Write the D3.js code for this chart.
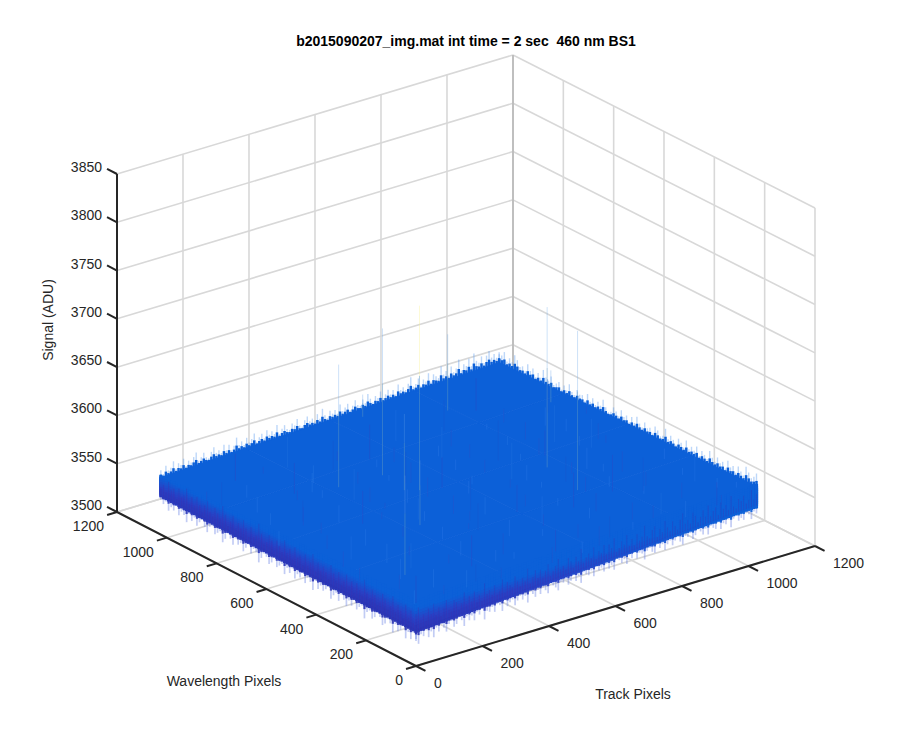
<!DOCTYPE html>
<html><head><meta charset="utf-8">
<script src="https://cdnjs.cloudflare.com/ajax/libs/d3/7.8.5/d3.min.js"></script>
<style>html,body{margin:0;background:#fff}svg{display:block}text{font-family:"Liberation Sans",Arial,sans-serif;fill:#262626}</style>
</head><body><svg id="c" width="900" height="750"></svg>
<script>
// ---- data ----
const trackTicks = [0,200,400,600,800,1000,1200];
const wavelengthTicks = [0,200,400,600,800,1000,1200];
const signalTicks = [3500,3550,3600,3650,3700,3750,3800,3850];
const titleText = "b2015090207_img.mat int time = 2 sec  460 nm BS1";
const surfaceNodes = [0,256,512,768,1024];
// mean signal of the upper surface: rows by wavelength, columns by track
const surfaceSignal = [
 [3566,3570,3573,3577,3580],
 [3564,3568,3571,3575,3578],
 [3562,3566,3570,3573,3577],
 [3561,3564,3568,3571,3575],
 [3559,3563,3566,3570,3573]];
// mean signal of the lower envelope along the two front edges
const lowerEnvelopeNodes = [3537,3543,3549,3555,3560];   // along track at wavelength 0
const lowerEnvelopeLeftNodes = [3537,3538,3539,3540,3541]; // along wavelength at track 0
// downward excursions along the front edges (ADU)
const lowerAlongWavelength = [9,4,12,6,14,3,8,11,5,15,7,4,10,13,6,3,9,12,5,8,16,4,7,11,3,10,6,13,8,4,12,5,9,14,3,7,10,6,11,4,15,8,5,12,3,9,7,13,4,10,6,14,5,8,11,3,9,12,6,4,10,16,7,5,11,3,8,13,6,9,4,12,7,3,10,15,5,8,11,4,6,13,9,3,7,12,5,10,4,14,8,6,11,3,9,7,12,4,8,5];
const lowerAlongTrack = [11,15,6,9,4,12,7,14,5,10,3,8,13,6,4,11,9,3,7,14,5,10,6,12,4,8,3,15,7,9,5,11,4,6,13,3,10,7,5,12,8,4,9,6,14,3,7,11,5,10,4,8,12,3,6,9,13,5,7,4,11,8,3,10,6,14,4,7,9,5,12,3,8,6,11,4,10,7,13,3,5,9,6,12,4,8,3,10,5,7,14,6,4,9,11,3,8,5,12,7,4,10,6,3,9,13,5,7,4,11,8,3,6,10,5,12,4,7,9,3,11,6,8,4,13,5,3,9,7,10,4,6,12,5,8];
// upward excursions along the back edges (ADU)
const upperAlongTrack = [8,3,11,5,7,13,4,9,6,12,3,8,5,10,14,4,7,11,5,3,9,13,6,8,4,12,5,10,3,7,15,6,9,4,11,5,8,13,3,7,10,4,12,6,9,5,14,3,8,11,6,4,10,7,13,5,3,9,12,6,8,4,11,5,15,7,3,10,6,9,4,13,5,8,11,3,7,12,6,4,10,5,14,8,3,9,6,12,4,7,11,5,9,3,13,6,8,4,10,16,5,7,12,3,9,6,14,4,11,8,5,17,7,10,4,13,6,9,18,5,11,8,15,6,19,10,7,13,5,12,16,8,11,6,9];
const upperAlongWavelength = [14,9,6,11,16,5,8,12,4,10,7,13,3,9,6,11,5,8,14,4,7,10,3,12,6,9,5,13,4,8,11,3,7,10,5,15,6,4,9,12,3,8,6,11,4,7,13,5,10,3,9,6,12,4,8,11,5,3,7,14,6,9,4,10,5,12,3,8,7,11,4,6,13,5,9,3,10,7,4,12,6,8,15,5,9,3,11,7,13,4,8,6,12,16,7,10,5,14,9,11];
// isolated hot pixels: track, wavelength, signal where the spike enters the surface, peak signal
const spikeTrack      = [300,428,443,793,770,743,101,314,414,608,1020];
const spikeWavelength = [709,703,575,925,498,341,179,402,597,1020,813];
const spikeBase       = [3560,3560,3560,3560,3560,3560,3560,3560,3560,3560,3560];
const spikePeak       = [3687,3712,3751,3639,3726,3725,3663,3627,3639,3583,3593];
// short interior streaks: track, wavelength, low signal, high signal
const streakTrack      = [90,180,240,310,120,420,510,560,650,700,820,880,950,990,140,260,360,480,590,680,760,840,920,60,220,340,450,530,620,730,810,900,970,170,290,390,470,610,710,860];
const streakWavelength = [120,260,80,190,420,310,120,240,90,300,110,260,60,200,640,560,470,420,380,520,410,330,520,860,780,700,640,600,720,640,560,640,760,950,900,850,810,890,830,900];
const streakLow        = [3540,3548,3552,3546,3542,3556,3550,3558,3554,3552,3558,3556,3560,3562,3550,3546,3552,3556,3548,3554,3558,3550,3562,3546,3552,3544,3558,3550,3556,3552,3560,3554,3562,3548,3556,3550,3558,3552,3560,3556];
const streakHigh       = [3568,3574,3570,3578,3566,3584,3572,3586,3576,3588,3580,3590,3584,3592,3572,3580,3574,3590,3576,3592,3584,3588,3592,3570,3584,3576,3590,3582,3588,3594,3586,3592,3596,3576,3588,3580,3594,3584,3592,3590];
// fine surface grain: track, wavelength, streak length in ADU
const grainTrack = [40,110,205,275,355,440,515,600,675,770,845,930,1005,70,150,230,330,405,490,570,650,745,825,905,985,25,130,190,300,380,465,545,630,715,800,880,960,55,160,250,320,425,505,585,660,755,835,915,1000,85,175,265,345,455,535,615,695,785,865,945,15,120,215,305,395,475,560,640,725,815,895,975,65,145,240,335,415,500,590,670,765,850,935,1015,100,195,285,370,450,525,610,690,775,860,940,30,125,220,315,410];
const grainWavelength = [60,35,70,25,80,40,20,65,30,75,45,15,55,160,130,175,120,190,145,110,170,125,185,140,105,260,235,280,220,295,245,215,270,230,290,250,210,365,330,385,320,350,395,340,375,325,360,390,335,470,435,490,425,455,500,440,480,420,465,495,570,540,595,530,560,585,520,575,545,590,535,565,670,645,695,630,660,685,625,675,650,690,640,665,770,735,795,725,755,785,720,775,745,790,730,880,845,905,830,860];
const grainLength = [14,9,18,11,7,16,12,20,8,13,17,10,6,15,19,9,12,22,7,14,11,18,8,16,10,13,21,9,15,6,17,12,8,19,11,14,7,16,20,10,13,9,18,12,6,15,8,21,11,14,17,7,10,19,13,9,16,12,22,8,15,11,18,6,14,20,9,13,7,17,10,16,12,19,8,15,6,21,11,14,9,18,13,7,16,10,20,12,8,15,11,17,6,14,19,9,13,7,18,10];

// ---- projection ----
const tA = d3.scaleLinear([0,1200],[0,1]);
const wA = d3.scaleLinear([0,1200],[0,1]);
const zPx = d3.scaleLinear([3500,3850],[0,338]);
function P(t,w,z){
  const a=tA(t), b=wA(w);
  return [416+399*a-299*b-3*a*b, 666-120*a-154*b+a*b*1-zPx(z)];
}
const signalColor = d3.scaleLinear([3528,3545,3557,3610],
  ['#2c2ca8','#2a40c4','#0c60d8','#0c60d8']).clamp(true);
const spikeColor = d3.scaleLinear([3580,3745,3750],['#5a9ae6','#6aa5ea','#f8f080']).clamp(true);

const svg = d3.select('#c');
const seg=(g,p,q,col,w,op)=>g.append('line').attr('x1',p[0]).attr('y1',p[1]).attr('x2',q[0]).attr('y2',q[1])
   .attr('stroke',col).attr('stroke-width',w).attr('stroke-opacity',op==null?1:op);

// ---- walls and floor grid ----
const grid = svg.append('g');
const gc='#d8d8d8', gw=1.6, zMin=3500, zMax=3850, end=1200;
signalTicks.forEach(z=>{ seg(grid,P(0,end,z),P(end,end,z),gc,gw); seg(grid,P(end,end,z),P(end,0,z),gc,gw); });
trackTicks.forEach(t=>{ seg(grid,P(t,end,zMin),P(t,end,zMax),gc,gw); seg(grid,P(t,0,zMin),P(t,end,zMin),gc,gw); });
wavelengthTicks.forEach(w=>{ seg(grid,P(end,w,zMin),P(end,w,zMax),gc,gw); seg(grid,P(0,w,zMin),P(end,w,zMin),gc,gw); });
seg(grid,P(end,end,zMin),P(end,end,zMax),'#b8b8b8',gw);

// ---- surface ----
const surf = svg.append('g');
const line = d3.line();
const edgeMax = surfaceNodes[surfaceNodes.length-1];
const topAt = (t,w)=>{
  const tt=d3.scaleLinear(surfaceNodes,surfaceSignal[0])(t);
  const tb=d3.scaleLinear(surfaceNodes,surfaceSignal[4])(t);
  return d3.scaleLinear([0,edgeMax],[tt,tb])(w);
};
// back fringe, behind the top face
function backEdge(arr,posAt){
  const pos=d3.scaleLinear([0,arr.length-1],[0,edgeMax]);
  arr.forEach((d,i)=>{const u=pos(i),[t,w]=posAt(u),top=topAt(t,w);
    seg(surf,P(t,w,top-3),P(t,w,top+d*.95),'#5a9cf0',1.4,.4);
    seg(surf,P(t,w,top-3),P(t,w,top+d*.4),'#0c60d8',2.5,1);
  });
}
backEdge(upperAlongTrack,u=>[u,edgeMax]);
backEdge(upperAlongWavelength,u=>[edgeMax,u]);
for(let r=0;r<surfaceNodes.length-1;r++) for(let c=0;c<surfaceNodes.length-1;c++){
  const t0=surfaceNodes[c],t1=surfaceNodes[c+1],w0=surfaceNodes[r],w1=surfaceNodes[r+1];
  const poly=[P(t0,w0,surfaceSignal[r][c]),P(t1,w0,surfaceSignal[r][c+1]),P(t1,w1,surfaceSignal[r+1][c+1]),P(t0,w1,surfaceSignal[r+1][c])];
  const col=signalColor(surfaceSignal[r][c]);
  surf.append('path').attr('d',line(poly)+'Z').attr('fill',col).attr('stroke',col).attr('stroke-width',.8);
}
const lowT=d3.scaleLinear(surfaceNodes,lowerEnvelopeNodes), lowW=d3.scaleLinear(surfaceNodes,lowerEnvelopeLeftNodes);
const tiers=d3.range(0,1.001,.1);
function frontEdge(arr,posAt,lowAt){
  const pos=d3.scaleLinear([0,arr.length-1],[0,edgeMax]);
  arr.forEach((d,i)=>{const u=pos(i),[t,w]=posAt(u),lo=lowAt(u);
    seg(surf,P(t,w,lo+1),P(t,w,lo-d),'#5f78e2',1.7,.38);
  });
  arr.forEach((d,i)=>{const u=pos(i),[t,w]=posAt(u),top=topAt(t,w),lo=lowAt(u);
    tiers.slice(1).forEach((f,k)=>{
      const a=top+(lo-top)*tiers[k], b=top+(lo-top)*f;
      // tiers overlap by a few ADU and are painted from the bottom of the wall up
      seg(surf,P(t,w,a+2.5),P(t,w,b-2.5),signalColor((a+b)/2),3.2);
    });
    seg(surf,P(t,w,lo+1),P(t,w,lo-d*.4),signalColor(lo-2),2.2,.9);
    seg(surf,P(t,w,lo+d*1.5),P(t,w,lo),'#3b2fb0',1.2,.3);
  });
}
frontEdge(lowerAlongWavelength,u=>[0,u],u=>lowW(u));
frontEdge(lowerAlongTrack,u=>[u,0],u=>lowT(u));

// interior texture
grainTrack.forEach((t,i)=>{
  const w=grainWavelength[i], top=topAt(t,w);
  seg(surf,P(t,w,top-grainLength[i]),P(t,w,top),i%2?'#2a4fc8':'#2a78e6',1,.4);
});
streakTrack.forEach((t,i)=>{
  const w=streakWavelength[i];
  seg(surf,P(t,w,streakLow[i]),P(t,w,streakHigh[i]),i%3==0?'#2d49c4':(i%3==1?'#2472e0':'#1a55cc'),1,.4);
});
// hot-pixel spikes
spikeTrack.forEach((t,i)=>{
  const w=spikeWavelength[i], b=spikeBase[i], p=spikePeak[i];
  const m=b+(p-b)*.62;
  seg(surf,P(t,w,b),P(t,w,m),'#5a96c4',1,.5);
  seg(surf,P(t,w,m),P(t,w,p),spikeColor(p),1,.32);
});

// ---- axes ----
const ax = svg.append('g');
const ac='#262626', aw=2;
seg(ax,P(0,0,zMin),P(end,0,zMin),ac,aw);
seg(ax,P(0,0,zMin),P(0,end,zMin),ac,aw);
seg(ax,P(0,end,zMin),P(0,end,zMax),ac,aw);
const fs=14;
trackTicks.forEach(t=>{
  const p=P(t,0,zMin);
  seg(ax,p,P(t,-38,zMin),ac,aw);
  ax.append('text').attr('x',p[0]+18).attr('y',p[1]+22).attr('font-size',fs).text(t);
});
wavelengthTicks.forEach(w=>{
  const p=P(0,w,zMin);
  seg(ax,p,P(-30,w,zMin),ac,aw);
  ax.append('text').attr('x',p[0]-13).attr('y',p[1]+19).attr('font-size',fs).attr('text-anchor','end').text(w);
});
signalTicks.forEach(z=>{
  const p=P(0,end,z);
  seg(ax,p,P(0,end+40,z),ac,aw);
  ax.append('text').attr('x',p[0]-15).attr('y',p[1]-2).attr('font-size',fs).attr('text-anchor','end').text(z);
});
ax.append('text').attr('x',466).attr('y',46).attr('text-anchor','middle').attr('font-size',14)
  .attr('font-weight','bold').style('fill','#000').style('white-space','pre').text(titleText);
ax.append('text').attr('x',224).attr('y',686).attr('text-anchor','middle').attr('font-size',fs).text('Wavelength Pixels');
ax.append('text').attr('x',633).attr('y',699).attr('text-anchor','middle').attr('font-size',fs).text('Track Pixels');
ax.append('text').attr('transform','translate(53,320) rotate(-90)').attr('text-anchor','middle').attr('font-size',fs).text('Signal (ADU)');
</script></body></html>
